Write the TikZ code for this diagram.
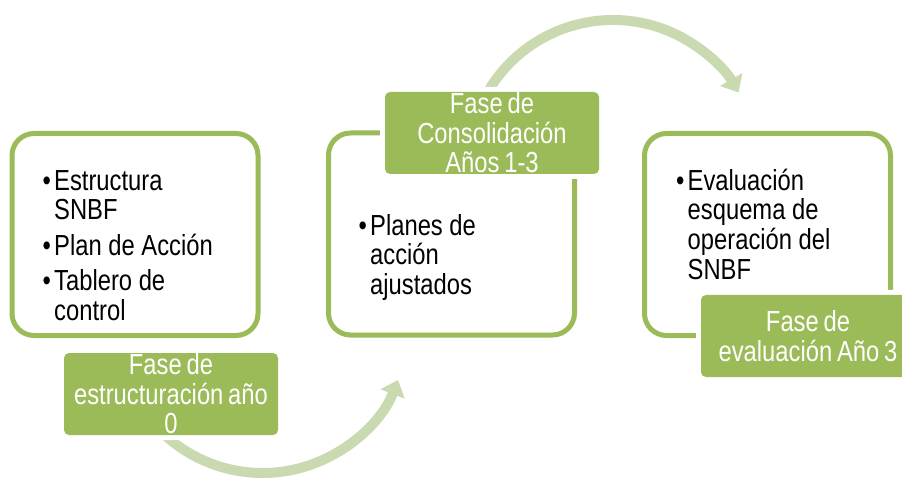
\documentclass[tikz,border=0pt]{standalone}
\usepackage{fontspec}
\setmainfont[FakeStretch=0.82,WordSpace=0.72]{Liberation Sans}
\usetikzlibrary{arrows.meta}
\definecolor{oliveg}{HTML}{9BBB59}
\definecolor{arrowg}{RGB}{201,218,176}
\newcommand\bitem[1]{\par\spaceskip=6.6pt\relax\hangindent=11.5pt\relax\hangafter=1\relax\noindent\makebox[11.5pt][l]{•}#1\par}
\newcommand\fstrut{\rule{0pt}{28pt}}
\begin{document}
\begin{tikzpicture}[x=1pt,y=-1pt,
  phase/.style={draw=oliveg, line width=5pt, fill=white, rounded corners=22pt,
    minimum width=246pt, minimum height=202pt, inner sep=0pt},
  lab/.style={fill=oliveg, rounded corners=5pt, minimum width=214pt, minimum height=82pt,
    inner sep=0pt, preaction={draw=white, line width=10pt, rounded corners=5pt}},
  labtext/.style={text=white, align=center, inner sep=0pt,
    font=\fontsize{29}{29.5}\selectfont},
  bul/.style={anchor=north west, inner sep=0pt, text width=215pt, align=flush left,
    font=\fontsize{29}{29.7}\selectfont},
  arr/.style={draw=arrowg, line width=10pt, -{Triangle[width=25pt,length=15pt]}}]
\useasboundingbox (0,0) rectangle (902,478);
\clip (0,0) rectangle (902,478);
% arrows
\coordinate (c1) at (262.6,328);
\coordinate (c2) at (613,165);
\draw[arr] ([shift={(132:145)}]c1) arc[start angle=132, end angle=21, radius=145];
\draw[arr] ([shift={(208:145)}]c2) arc[start angle=208, end angle=330, radius=145];
% boxes
\node[phase] (b1) at (135,234.5) {};
\node[phase] (b2) at (451.5,234) {};
\node[phase] (b3) at (767.5,234.5) {};
% bullet texts
\node[bul] (t1) at (42.5,160.3) {\bitem{\fstrut Estructura\newline SNBF}\setlength{\parskip}{5.8pt}\bitem{Plan de Acción}\bitem{Tablero de\newline control}};
\node[bul] (t2) at (358.5,205.3) {\bitem{\fstrut Planes de\newline acción\newline ajustados}};
\node[bul] (t3) at (676,160.3) {\bitem{\fstrut Evaluación\newline esquema de\newline operación del\newline SNBF}};
% labels
\node[lab] (l1) at (171,394) {};
\node[labtext] (l1t) at (l1.center) {Fase de\\estructuración año\\0};
\node[lab] (l2) at (492,133) {};
\node[labtext] (l2t) at (l2.center) {Fase de\\Consolidación\\Años 1-3};
\node[lab] (l3) at (808,336) {};
\node[labtext] (l3t) at (l3.center) {Fase de\\evaluación Año 3};
\end{tikzpicture}
\end{document}
